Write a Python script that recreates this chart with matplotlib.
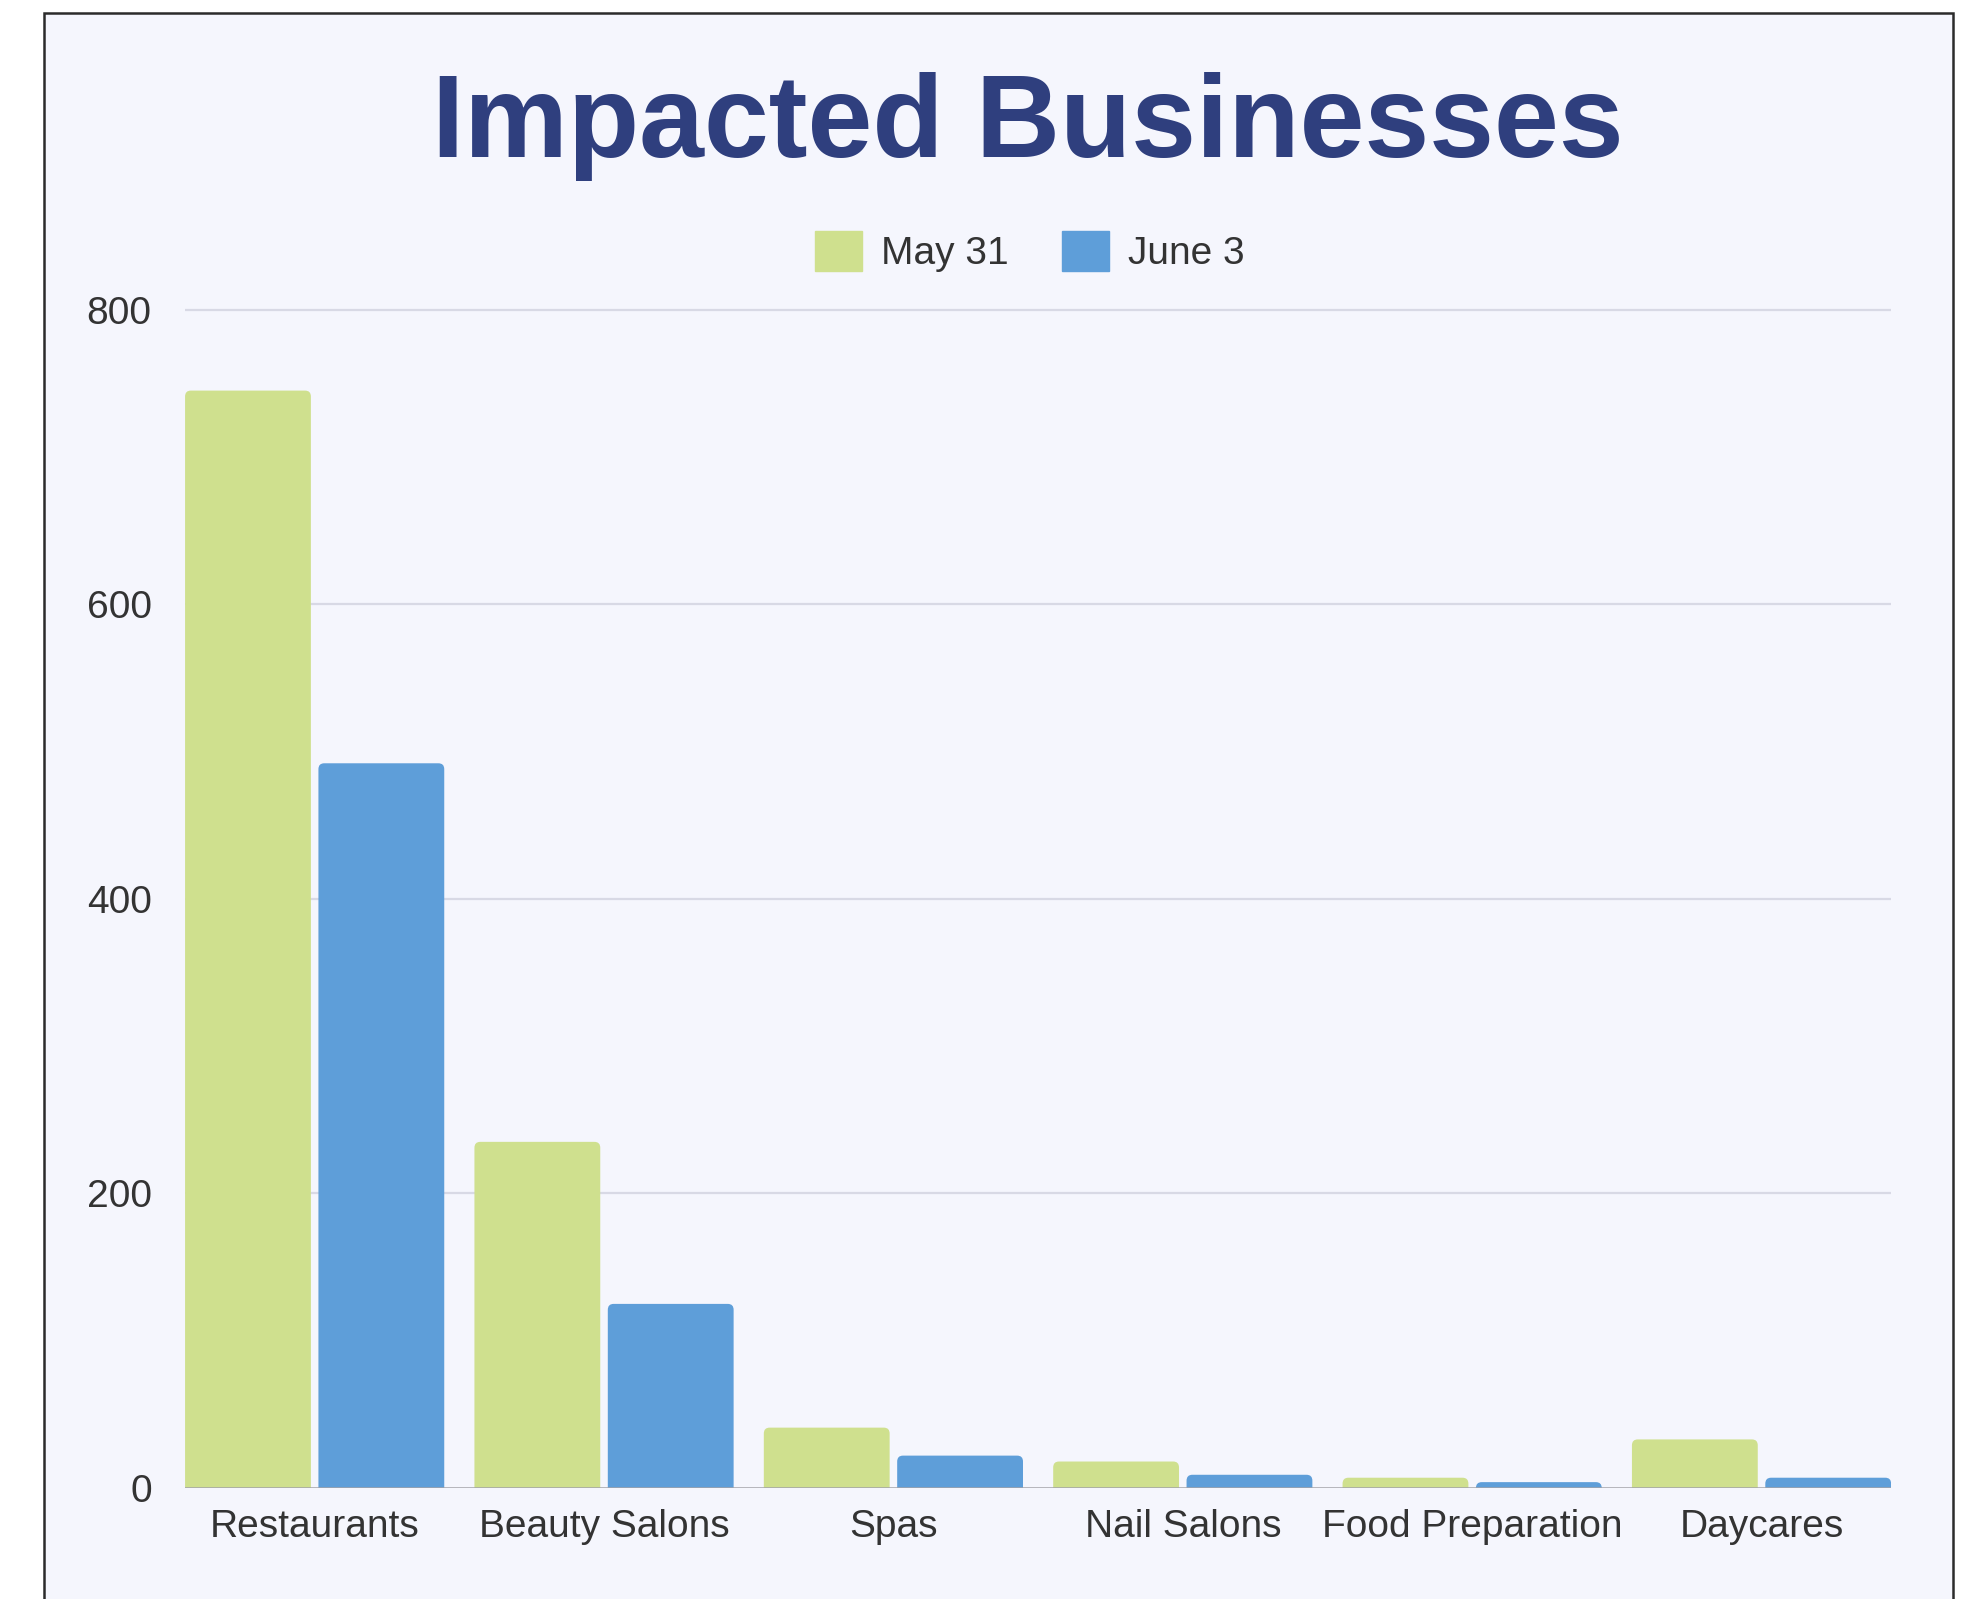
import matplotlib.pyplot as plt
import matplotlib.patches as mpatches
import numpy as np

plt.rcParams['font.family'] = ['Liberation Sans', 'DejaVu Sans']

categories = ['Restaurants', 'Beauty Salons', 'Spas', 'Nail Salons', 'Food Preparation', 'Daycares']
may_31 = [745, 235, 41, 18, 7, 33]
june_3 = [492, 125, 22, 9, 4, 7]
y_ticks = [0, 200, 400, 600, 800]

green = '#cfe08e'
blue = '#5e9ed9'
bg = '#f5f6fd'
text_col = '#333333'

fig = plt.figure(figsize=(19.73, 15.99), dpi=100)
fig.patch.set_facecolor('white')

# framed panel, bottom edge runs off the image
frame = mpatches.Rectangle((44 / 1973, -0.05), (1953 - 44) / 1973, 1.05 - 13 / 1599,
                           transform=fig.transFigure, facecolor=bg, edgecolor='#2b2b2b',
                           linewidth=1.8, zorder=-1)
fig.patches.append(frame)

ax = fig.add_axes([0.0938, 0.0694, 0.8647, 0.7416])
ax.set_facecolor('none')
ax.set_zorder(2)

x = np.arange(len(categories))
w = 100 / 230
off = 53 / 230
bars1 = ax.bar(x - off, may_31, w, color=green, zorder=3)
bars2 = ax.bar(x + off, june_3, w, color=blue, zorder=3)

# swap the plain rectangles for ones with softly rounded tops
for bars, col in [(bars1, green), (bars2, blue)]:
    for r in bars:
        r.set_visible(False)
        ax.add_patch(mpatches.FancyBboxPatch(
            (r.get_x(), -12), r.get_width(), r.get_height() + 12,
            boxstyle='round,pad=0,rounding_size=0.02', mutation_aspect=200,
            facecolor=col, edgecolor='none', zorder=3))

ax.set_xlim(-103 / 230, len(categories) - 1 + 103 / 230)
ax.set_ylim(0, 805)

for t in y_ticks[1:]:
    ax.axhline(t, color='#d8d9e5', linewidth=1.6, zorder=1)
ax.axhline(0, color='#a3a3a8', linewidth=1.8, zorder=4)

ax.set_yticks(y_ticks)
ax.set_yticklabels([str(t) for t in y_ticks], fontsize=28, color=text_col)
ax.set_xticks(x)
ax.set_xticklabels(categories, fontsize=28, color=text_col)
ax.tick_params(axis='y', length=0, pad=24)
ax.tick_params(axis='x', length=0, pad=15)
for s in ax.spines.values():
    s.set_visible(False)

fig.text(0.521, 0.9018, 'Impacted Businesses', fontsize=84, fontweight='bold',
         color='#2f3f7e', ha='center', va='baseline')

handles = [mpatches.Patch(color=green, label='May 31'),
           mpatches.Patch(color=blue, label='June 3')]
fig.legend(handles=handles, loc='center', bbox_to_anchor=(0.522, 0.8427), ncol=2,
           frameon=False, fontsize=28, handlelength=1.2, handleheight=1.2,
           handletextpad=0.5, columnspacing=1.36, labelcolor=text_col)

fig.savefig('out.png', dpi=100, facecolor=fig.get_facecolor())
